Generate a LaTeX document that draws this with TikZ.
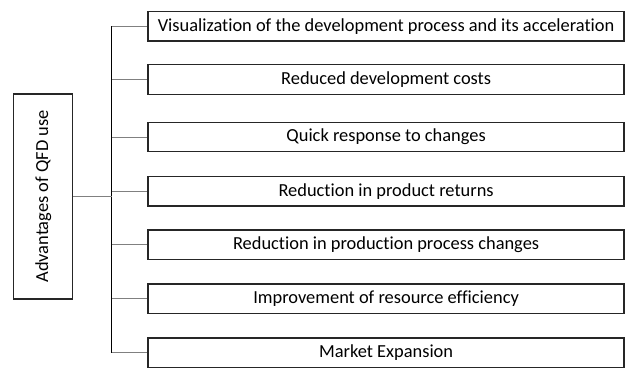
\documentclass[tikz,border=0pt]{standalone}
\usepackage{fontspec}
\setmainfont{Carlito}[Ligatures={NoCommon}]
\begin{document}
\begin{tikzpicture}[x=1pt,y=-1pt,
  itembox/.style={draw=black!85, line width=1.4pt, minimum width=476pt, minimum height=29.5pt, inner sep=0pt, font=\fontsize{18.4}{21}\selectfont},
  mainbox/.style={draw=black!85, line width=1.4pt, minimum width=205pt, minimum height=59pt, inner sep=0pt, rotate=90, font=\fontsize{18.4}{21}\selectfont},
  hconn/.style={draw=black!50, line width=0.9pt},
  vconn/.style={draw=black, line width=0.8pt}]
\useasboundingbox (0,0) rectangle (627,368);
\node[mainbox] (main) at (43.2,196.5) {Advantages of QFD use};
\node[itembox] (b1) at (386.1,26.2) {Visualization of the development process and its acceleration};
\node[itembox] (b2) at (386.1,79.5) {Reduced development costs};
\node[itembox] (b3) at (386.1,137) {Quick response to changes};
\node[itembox] (b4) at (386.1,191.2) {Reduction in product returns};
\node[itembox] (b5) at (386.1,244.8) {Reduction in production process changes};
\node[itembox] (b6) at (386.1,298.8) {Improvement of resource efficiency};
\node[itembox] (b7) at (386.1,352.8) {Market Expansion};
\coordinate (top) at (111.7,26.2);
\coordinate (bot) at (111.7,352.8);
\draw[vconn] (top) -- (bot);
\draw[hconn] (main.south) -- (main.south -| top);
\foreach \b in {b1,b2,b3,b4,b5,b6,b7}{
  \draw[hconn] (\b.west -| top) -- (\b.west);
}
\end{tikzpicture}
\end{document}
